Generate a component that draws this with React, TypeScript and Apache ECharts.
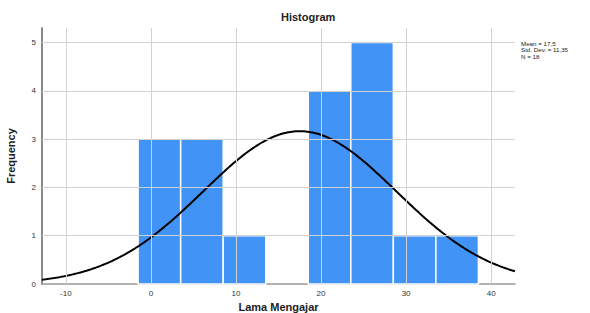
import React, { useEffect, useRef } from "react";
import * as echarts from "echarts";

const binStarts = [-1.5, 3.5, 8.5, 13.5, 18.5, 23.5, 28.5, 33.5];
const binWidth = 5;
const counts = [3, 3, 1, 0, 4, 5, 1, 1];
const xTicks = [-10, 0, 10, 20, 30, 40];
const yTicks = [0, 1, 2, 3, 4, 5];
const mean = 17.5;
const stdDev = 11.35;
const n = 18;
const statsLines = ["Mean = 17,5", "Std. Dev. = 11,35", "N = 18"];
const xMin = -12.8;
const xMax = 42.8;
const yMax = 5.3;

export default function App() {
  const ref = useRef<HTMLDivElement>(null);
  useEffect(() => {
    if (!ref.current) return;
    const chart = echarts.init(ref.current, null, { renderer: "svg" });
    const bins = binStarts
      .map((s, i) => [s, s + binWidth, counts[i]])
      .filter((d) => d[2] > 0);
    const curve: number[][] = [];
    for (let x = xMin; x <= xMax + 1e-9; x += 0.2) {
      const z = (x - mean) / stdDev;
      const y = (n * binWidth) / (stdDev * Math.sqrt(2 * Math.PI)) * Math.exp(-0.5 * z * z);
      curve.push([x, y]);
    }
    const font = "Liberation Sans, Arial, sans-serif";
    chart.setOption({
      animation: false,
      textStyle: { fontFamily: font },
      grid: { left: 42, right: 75, top: 28, bottom: 29, containLabel: false, outerBoundsMode: "none" },
      xAxis: {
        type: "value",
        min: xMin,
        max: xMax,
        name: "Lama Mengajar",
        nameLocation: "middle",
        nameGap: 16,
        nameTextStyle: { fontFamily: font, fontWeight: "bold", fontSize: 11, color: "#222" },
        axisLine: { show: true, onZero: false, lineStyle: { color: "#9a9a9a", width: 1.5 } },
        axisTick: { show: false },
        splitLine: { show: false },
        axisLabel: { customValues: xTicks, fontSize: 8, color: "#333", margin: 5, fontFamily: font },
      },
      yAxis: {
        type: "value",
        min: 0,
        max: yMax,
        name: "Frequency",
        nameLocation: "middle",
        nameGap: 26,
        nameTextStyle: { fontFamily: font, fontWeight: "bold", fontSize: 11, color: "#222" },
        axisLine: { show: true, onZero: false, lineStyle: { color: "#8a8a8a", width: 2 } },
        axisTick: { show: false },
        splitLine: { show: false },
        axisLabel: { customValues: yTicks, fontSize: 8, color: "#333", margin: 6, fontFamily: font },
      },
      graphic: [
        {
          type: "text",
          left: 281,
          top: 11,
          style: { text: "Histogram", fontFamily: font, fontWeight: "bold", fontSize: 11, fill: "#222" },
        },
        {
          type: "text",
          left: 521,
          top: 40,
          style: { text: statsLines.join("\n"), fontFamily: font, fontSize: 6.2, lineHeight: 6.6, fill: "#222" },
        },
      ],
      series: [
        {
          type: "line",
          data: [],
          z: 0,
          silent: true,
          markLine: {
            silent: true,
            symbol: "none",
            label: { show: false },
            lineStyle: { color: "#d2d2d2", width: 1, type: "solid" },
            data: [
              ...xTicks.map((v) => ({ xAxis: v })),
              ...yTicks.filter((v) => v > 0).map((v) => ({ yAxis: v })),
            ],
          },
        },
        {
          type: "custom",
          z: 2,
          data: bins,
          encode: { x: [0, 1], y: 2 },
          renderItem: (params: any, api: any) => {
            const p0 = api.coord([api.value(0), api.value(2)]);
            const p1 = api.coord([api.value(1), 0]);
            return {
              type: "rect",
              shape: { x: p0[0], y: p0[1], width: p1[0] - p0[0], height: p1[1] - p0[1] },
              style: { fill: "#4193f5", stroke: "#ffffff", lineWidth: 1.5 },
            };
          },
        },
        {
          type: "line",
          z: 3,
          data: curve,
          showSymbol: false,
          symbol: "none",
          lineStyle: { color: "#000", width: 2 },
          silent: true,
        },
      ],
    });
    return () => chart.dispose();
  }, []);
  return <div ref={ref} style={{ width: 590, height: 313, position: "absolute", left: 0, top: 0 }} />;
}
